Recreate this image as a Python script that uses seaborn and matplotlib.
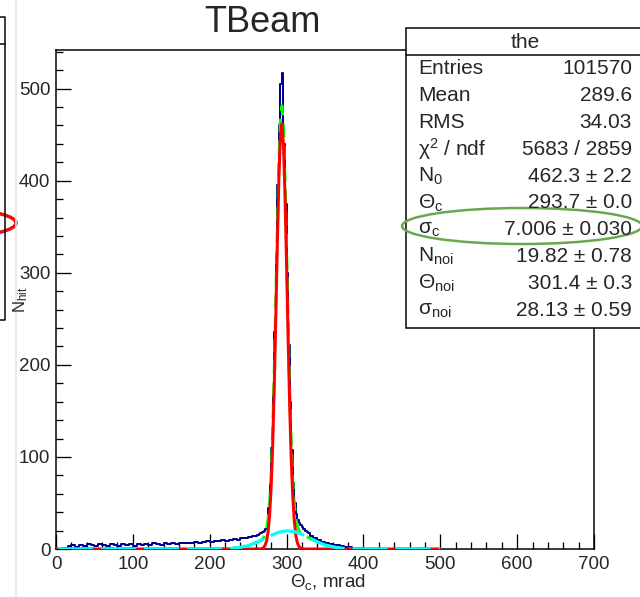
import numpy as np
import pandas as pd
import matplotlib
matplotlib.use("Agg")
import matplotlib.pyplot as plt
import seaborn as sns
from matplotlib.patches import Ellipse, Rectangle
from matplotlib.ticker import MultipleLocator

# ---------------- data ----------------
# histogram "the": counts per bin
hist_left_counts = [2, 3, 4, 2, 4, 3, 5, 4, 3, 5, 4, 3, 5, 4, 3, 5, 4, 5, 3, 5,
                    4, 5, 4, 6, 5, 4, 6, 5, 6, 5, 6, 7, 6, 7, 8, 7, 8, 9, 8, 9,
                    9, 10, 9, 10, 11, 10, 12, 12, 13, 14]          # 10..260, 5 mrad bins
hist_peak_counts = [14, 15, 16, 17, 18, 20, 22, 28, 44, 70, 110, 165, 236, 318,
                    395, 460, 505, 517, 440, 375, 300, 222, 160, 108, 72, 50,
                    38, 32, 28, 26, 24, 22, 20, 19, 17]              # 260..330, 2 mrad bins
hist_right_counts = [14, 12, 10, 8, 6.5, 5.5, 4.5, 4, 3, 2.5, 2, 1.5, 1, 1]  # 330..400, 5 mrad bins

# signal gaussian fit (red)
red_x = [0, 250, 262, 264, 266, 268, 270, 272, 274, 276, 278, 280, 282, 284, 286, 288,
         290, 292, 294, 296, 298, 300, 302, 304, 306, 308, 310, 312, 314, 316, 318,
         320, 322, 324, 326, 340, 500]
red_y = [0, 0, 0.02, 0.06, 0.19, 0.55, 1.5, 3.8, 8.9, 19.0, 37.5, 68.3, 114.7, 177.3,
         252.7, 332.0, 402.2, 448.9, 461.9, 438.0, 382.9, 308.6, 229.2, 156.9, 99.0,
         57.6, 30.9, 15.2, 6.9, 2.9, 1.1, 0.4, 0.13, 0.04, 0.01, 0, 0]

# noise gaussian fit (cyan)
cyan_x = [0, 200, 210, 220, 230, 240, 250, 260, 270, 280, 290, 300, 310, 320, 330,
          340, 350, 360, 370, 380, 390, 400, 500]
cyan_y = [0, 0.03, 0.10, 0.30, 0.79, 1.83, 3.73, 6.71, 10.63, 14.84, 18.26, 19.80,
          18.92, 15.93, 11.82, 7.73, 4.46, 2.26, 1.01, 0.40, 0.14, 0.04, 0]

# total fit (green)
green_x = [0, 200, 210, 220, 230, 240, 250, 260, 262, 264, 266, 268, 270, 272, 274,
           276, 278, 280, 282, 284, 286, 288, 290, 292, 294, 296, 298, 300, 302, 304,
           306, 308, 310, 312, 314, 316, 318, 320, 322, 324, 326, 330, 340, 350, 360,
           370, 380, 390, 400, 500]
green_y = [0, 0.03, 0.10, 0.30, 0.79, 1.83, 3.73, 6.71, 7.45, 8.25, 9.17, 10.34, 12.1,
           15.3, 21.2, 32.2, 51.5, 83.1, 130.3, 193.7, 269.8, 349.7, 420.5, 467.6,
           481.1, 457.5, 402.6, 328.4, 249.0, 176.6, 118.6, 76.9, 49.8, 33.7, 24.8,
           20.2, 17.8, 16.3, 15.3, 14.4, 13.5, 11.8, 7.73, 4.46, 2.26, 1.01, 0.40,
           0.14, 0.04, 0]

x_ticks = [0, 100, 200, 300, 400, 500, 600, 700]
y_ticks = [0, 100, 200, 300, 400, 500]

stat_labels = ["Entries", "Mean", "RMS", r"$\mathrm{\chi}^{2}$ / ndf", r"$\mathrm{N}_{0}$",
               r"$\mathrm{\Theta}_{\mathrm{c}}$", r"$\mathrm{\sigma}_{\mathrm{c}}$",
               r"$\mathrm{N}_{\mathrm{noi}}$", r"$\mathrm{\Theta}_{\mathrm{noi}}$",
               r"$\mathrm{\sigma}_{\mathrm{noi}}$"]
stat_values = ["101570", "289.6", "34.03", "5683 / 2859", "462.3 ± 2.2", "293.7 ± 0.0",
               "7.006 ± 0.030", "19.82 ± 0.78", "301.4 ± 0.3", "28.13 ± 0.59"]

# ---------------- style ----------------
sns.set_style("white")
plt.rcParams["font.family"] = ["Liberation Sans", "DejaVu Sans"]
plt.rcParams["mathtext.fontset"] = "custom"
plt.rcParams["mathtext.rm"] = "Liberation Sans"
plt.rcParams["mathtext.it"] = "Liberation Sans:italic"
plt.rcParams["mathtext.sf"] = "Liberation Sans"
plt.rcParams["lines.scale_dashes"] = False

PX = 72 / 100.0  # points per pixel at dpi 100

fig = plt.figure(figsize=(6.4, 5.97), dpi=100)
L, R, T, B = 56, 594, 50, 549
ax = fig.add_axes([L / 640, 1 - B / 597, (R - L) / 640, (B - T) / 597])

# histogram as a step line
edges = np.concatenate([np.arange(10, 260, 5), np.arange(260, 330, 2), np.arange(330, 405, 5)])
counts = np.array(hist_left_counts + hist_peak_counts + hist_right_counts, dtype=float)
step_x = np.concatenate([[edges[0]], edges])
step_y = np.concatenate([[0.0], counts, [0.0]])
hdf = pd.DataFrame({"theta": step_x, "n": step_y})
sns.lineplot(data=hdf, x="theta", y="n", drawstyle="steps-post", sort=False,
             color="#000090", linewidth=2 * PX, ax=ax, zorder=2)

# fits
sns.lineplot(x=green_x, y=green_y, color="#00ff00", linewidth=3 * PX, ax=ax, zorder=3,
             sort=False)
ax.lines[-1].set_linestyle((0, (14 * PX, 8 * PX)))
sns.lineplot(x=red_x, y=red_y, color="#ff0000", linewidth=3 * PX, ax=ax, zorder=4, sort=False)
sns.lineplot(x=cyan_x, y=cyan_y, color="#00ffff", linewidth=3.2 * PX, ax=ax, zorder=5,
             sort=False)
ax.lines[-1].set_linestyle((41 * PX, (35 * PX, 8 * PX)))

ax.set_xlim(0, 700)
ax.set_ylim(0, 542)
ax.set_xticks(x_ticks)
ax.set_yticks(y_ticks)
ax.xaxis.set_minor_locator(MultipleLocator(20))
ax.yaxis.set_minor_locator(MultipleLocator(20))
ax.tick_params(which="major", direction="in", length=15 * PX, width=1.3 * PX,
               labelsize=13.5, color="black", pad=5, top=False, right=False,
               bottom=True, left=True)
ax.tick_params(which="minor", direction="in", length=7 * PX, width=1.3 * PX,
               color="black", top=False, right=False, bottom=True, left=True)
ax.tick_params(axis="y", which="major", pad=4)
for s in ax.spines.values():
    s.set_linewidth(1.5 * PX)
    s.set_color("black")
ax.set_xlabel("")
ax.set_ylabel("")

# ---------------- overlay in pixel coordinates ----------------
ov = fig.add_axes([0, 0, 1, 1], zorder=10)
ov.set_xlim(0, 640)
ov.set_ylim(597, 0)
ov.axis("off")
ov.patch.set_alpha(0)

# left neighbour panel remnants
ov.plot([16, 16], [0, 597], color="#e4e4e4", lw=1.5 * PX)
ov.plot([0, 5, 5, 0], [17, 17, 320, 320], color="black", lw=1.5 * PX)
ov.plot([0, 5], [44, 44], color="black", lw=1.5 * PX)
ov.add_patch(Ellipse((-38, 223), 108, 26, fill=False, ec="#e81010", lw=3.5 * PX))

# title and axis titles
ov.text(262, 22, "TBeam", ha="center", va="center", fontsize=26)
ov.text(328, 582, r"$\mathrm{\Theta}_{\mathrm{c}}$, mrad", ha="center", va="center",
        fontsize=13.5)
ov.text(21, 300, r"$\mathrm{N}_{\mathrm{hit}}$", ha="center", va="center", fontsize=12,
        rotation=90)

# stats box
ov.add_patch(Rectangle((406, 28), 260, 300, fc="white", ec="black", lw=1.5 * PX))
ov.plot([406, 640], [55, 55], color="black", lw=1.5 * PX)
ov.text(525, 42, "the", ha="center", va="center", fontsize=15)
row_y0, row_dy = 69, 26.8
for i, (lab, val) in enumerate(zip(stat_labels, stat_values)):
    y = row_y0 + i * row_dy
    ov.text(418, y, lab, ha="left", va="center", fontsize=15)
    ov.text(632, y, val, ha="right", va="center", fontsize=15)

# highlight ellipse
ov.add_patch(Ellipse((522, 226), 240, 36, fill=False, ec="#6aa84f", lw=2.5 * PX))

fig.savefig("out.png", dpi=100)
